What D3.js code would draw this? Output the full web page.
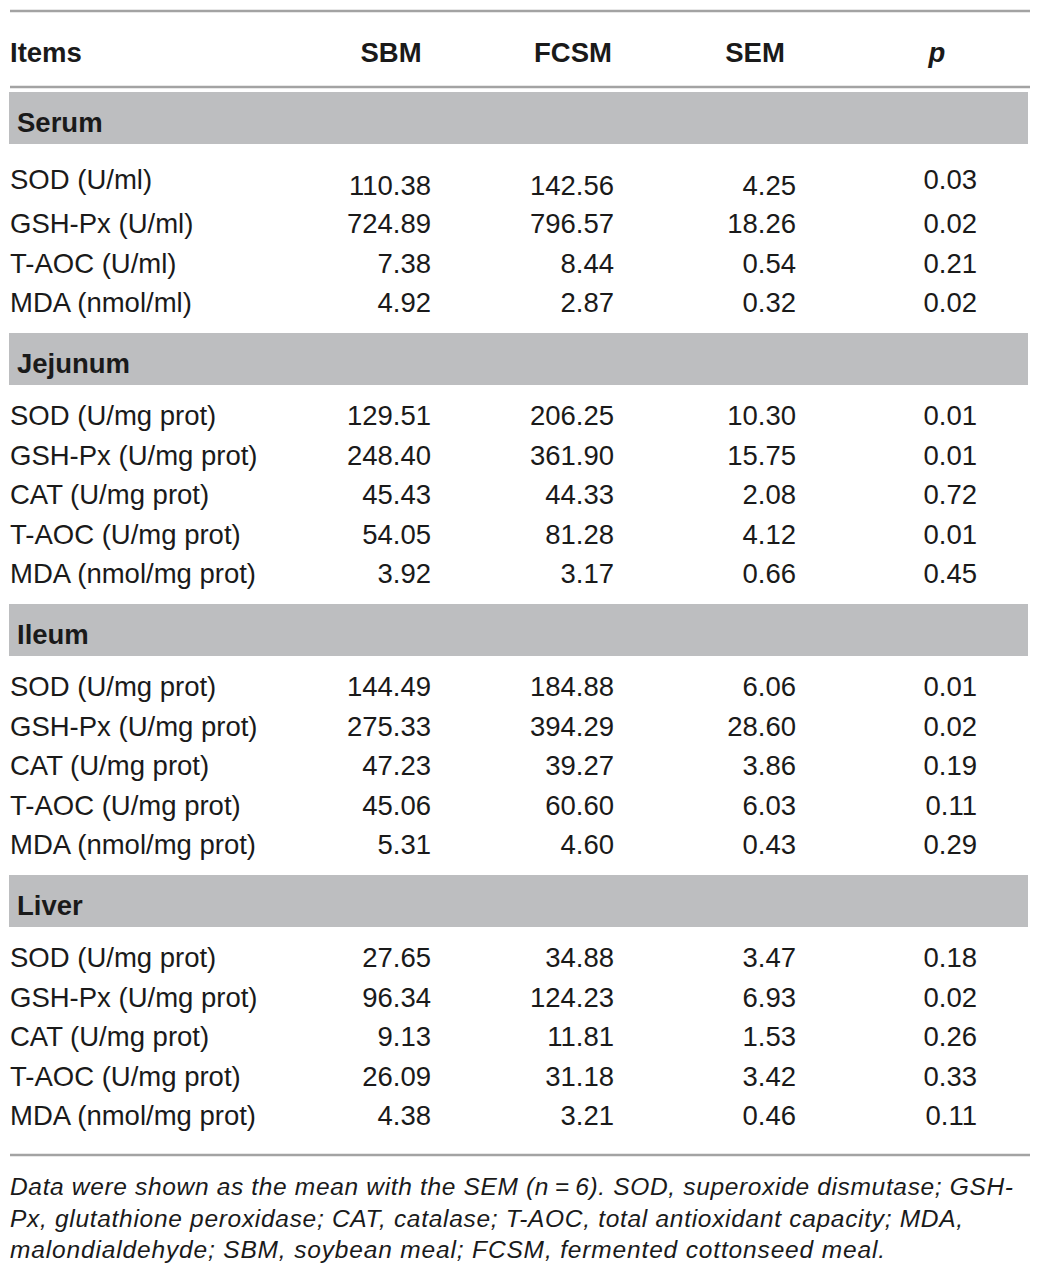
<!DOCTYPE html>
<html>
<head>
<meta charset="utf-8">
<script src="https://cdn.jsdelivr.net/npm/d3@7"></script>
<style>
  body { margin: 0; background: #fff; }
  svg text { font-family: "Liberation Sans", Arial, Helvetica, sans-serif; fill: #1a1a1a; }
</style>
</head>
<body>
<div id="displaybox"></div>
<script>
// column headers
const columns = ["Items", "SBM", "FCSM", "SEM", "p"];

// sections and their rows
const sections = ["Serum", "Jejunum", "Ileum", "Liver"];
const items = [
    ["SOD (U/ml)", "GSH-Px (U/ml)", "T-AOC (U/ml)", "MDA (nmol/ml)"],
    ["SOD (U/mg prot)", "GSH-Px (U/mg prot)", "CAT (U/mg prot)", "T-AOC (U/mg prot)", "MDA (nmol/mg prot)"],
    ["SOD (U/mg prot)", "GSH-Px (U/mg prot)", "CAT (U/mg prot)", "T-AOC (U/mg prot)", "MDA (nmol/mg prot)"],
    ["SOD (U/mg prot)", "GSH-Px (U/mg prot)", "CAT (U/mg prot)", "T-AOC (U/mg prot)", "MDA (nmol/mg prot)"]
];
const sbm = [
    ["110.38", "724.89", "7.38", "4.92"],
    ["129.51", "248.40", "45.43", "54.05", "3.92"],
    ["144.49", "275.33", "47.23", "45.06", "5.31"],
    ["27.65", "96.34", "9.13", "26.09", "4.38"]
];
const fcsm = [
    ["142.56", "796.57", "8.44", "2.87"],
    ["206.25", "361.90", "44.33", "81.28", "3.17"],
    ["184.88", "394.29", "39.27", "60.60", "4.60"],
    ["34.88", "124.23", "11.81", "31.18", "3.21"]
];
const sem = [
    ["4.25", "18.26", "0.54", "0.32"],
    ["10.30", "15.75", "2.08", "4.12", "0.66"],
    ["6.06", "28.60", "3.86", "6.03", "0.43"],
    ["3.47", "6.93", "1.53", "3.42", "0.46"]
];
const pval = [
    ["0.03", "0.02", "0.21", "0.02"],
    ["0.01", "0.01", "0.72", "0.01", "0.45"],
    ["0.01", "0.02", "0.19", "0.11", "0.29"],
    ["0.18", "0.02", "0.26", "0.33", "0.11"]
];

const footnote = [
    "Data were shown as the mean with the SEM (n\u2009=\u20096). SOD, superoxide dismutase; GSH-",
    "Px, glutathione peroxidase; CAT, catalase; T-AOC, total antioxidant capacity; MDA,",
    "malondialdehyde; SBM, soybean meal; FCSM, fermented cottonseed meal."
];

let width = 1040, height = 1286;
let left = 10, right = 1030;

let svg = d3.select("#displaybox")
    .append("svg")
        .attr("width", width)
        .attr("height", height);

// right edge of each value column, header centred a bit left of it
let x = d3.scaleOrdinal()
    .domain(columns.slice(1))
    .range([431, 614, 796, 977]);
let headX = d3.scaleOrdinal()
    .domain(columns.slice(1))
    .range([391, 573, 755, 937]);

let rowStep = 39.5, bandH = 52, fontSize = 27.5;
let lineColor = "#a3a3a3";

// build the vertical layout (first serum row sits a little lower, as in the original)
let layout = [];
let y = 92;
sections.forEach(function(s, i) {
    layout.push({type: "band", name: s, y: y});
    let base = y + bandH + 40 + (i === 0 ? 9.5 : 0);
    items[i].forEach(function(it, j) {
        layout.push({type: "row", name: it, y: base + j * rowStep,
            first: i === 0 && j === 0,
            vals: [sbm[i][j], fcsm[i][j], sem[i][j], pval[i][j]]});
    });
    y = base + (items[i].length - 1) * rowStep + 21;
});
let bottomY = y + 9;

// rules
[11, 87, bottomY].forEach(function(ly) {
    svg.append("line")
        .attr("x1", left).attr("x2", right)
        .attr("y1", ly).attr("y2", ly)
        .attr("stroke", lineColor).attr("stroke-width", 2.5);
});

// header
svg.append("text")
    .attr("x", left).attr("y", 62)
    .attr("font-size", fontSize).attr("font-weight", "bold")
    .text(columns[0]);
svg.selectAll("text.head").data(columns.slice(1))
    .enter()
    .append("text")
        .attr("class", "head")
        .attr("x", function(d) { return headX(d); })
        .attr("y", 62)
        .attr("text-anchor", "middle")
        .attr("font-size", fontSize)
        .attr("font-weight", "bold")
        .attr("font-style", function(d) { return d === "p" ? "italic" : "normal"; })
        .text(function(d) { return d; });

// section bands
let bands = layout.filter(function(d) { return d.type === "band"; });
svg.selectAll("rect.band").data(bands)
    .enter()
    .append("rect")
        .attr("class", "band")
        .attr("x", left - 1)
        .attr("y", function(d) { return d.y; })
        .attr("width", 1028 - left + 1)
        .attr("height", bandH)
        .attr("fill", "#bdbec0");
svg.selectAll("text.band").data(bands)
    .enter()
    .append("text")
        .attr("class", "band")
        .attr("x", 17)
        .attr("y", function(d) { return d.y + 40; })
        .attr("font-size", fontSize)
        .attr("font-weight", "bold")
        .text(function(d) { return d.name; });

// data rows
let rows = svg.selectAll("g.row").data(layout.filter(function(d) { return d.type === "row"; }))
    .enter()
    .append("g")
        .attr("class", "row")
        .attr("transform", function(d) { return `translate(0, ${d.y})`; });
rows.append("text")
    .attr("x", left)
    .attr("y", function(d) { return d.first ? -4.5 : 0; })
    .attr("font-size", fontSize)
    .text(function(d) { return d.name; });
rows.each(function(r) {
    d3.select(this).selectAll("text.val").data(r.vals)
        .enter()
        .append("text")
            .attr("class", "val")
            .attr("x", function(d, i) { return x(columns[i + 1]); })
            .attr("y", function(d, i) { return r.first ? (i < 3 ? 1.5 : -4.5) : 0; })
            .attr("text-anchor", "end")
            .attr("font-size", fontSize)
            .text(function(d) { return d; });
});

// footnote, stretched to the original line widths
let noteWidths = [1003, 953, 875];
svg.selectAll("text.note").data(footnote)
    .enter()
    .append("text")
        .attr("class", "note")
        .attr("x", left)
        .attr("y", function(d, i) { return bottomY + 40 + i * 31.5; })
        .attr("font-size", 24.5)
        .attr("font-style", "italic")
        .attr("textLength", function(d, i) { return noteWidths[i]; })
        .attr("lengthAdjust", "spacing")
        .text(function(d) { return d; });
</script>
</body>
</html>
